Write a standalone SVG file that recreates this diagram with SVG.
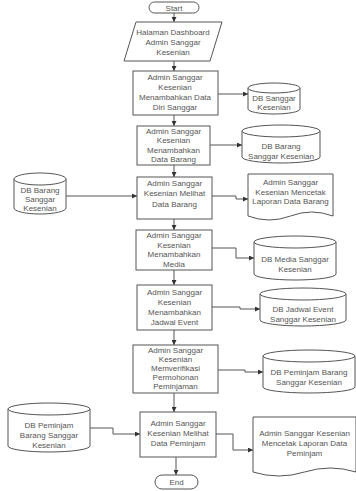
<svg xmlns="http://www.w3.org/2000/svg" width="356" height="491" viewBox="0 0 356 491">
  <defs>
    <marker id="arrow" viewBox="0 0 6 6" refX="6" refY="3" markerWidth="5" markerHeight="5" orient="auto">
      <path d="M0,0 L6,3 L0,6 z" fill="#333"/>
    </marker>
    <style>
      .shape { fill: #ffffff; stroke: #555; stroke-width: 1; }
      .edge { fill: none; stroke: #555; stroke-width: 1; marker-end: url(#arrow); }
      text { font-family: "Liberation Sans", Arial, sans-serif; font-size: 8px; fill: #555; text-anchor: middle; }
    </style>
  </defs>
  <rect width="356" height="491" fill="#ffffff"/>

  <!-- connectors -->
  <g id="connectors">
    <path class="edge" d="M174,13 V22"/>
    <path class="edge" d="M174,61 V71"/>
    <path class="edge" d="M213,94 H248"/>
    <path class="edge" d="M174,115 V126"/>
    <path class="edge" d="M210,145 H242"/>
    <path class="edge" d="M174,165 V177"/>
    <path class="edge" d="M65,196 H137"/>
    <path class="edge" d="M212,196 H236 V199 H248"/>
    <path class="edge" d="M174,219 V230"/>
    <path class="edge" d="M212,248 H236 V258 H254"/>
    <path class="edge" d="M174,270 V285"/>
    <path class="edge" d="M212,307 H240 V309 H260"/>
    <path class="edge" d="M174,330 V345"/>
    <path class="edge" d="M218,370 H245 V372 H263"/>
    <path class="edge" d="M174,393 V412"/>
    <path class="edge" d="M90,428 H113 V434 H140"/>
    <path class="edge" d="M216,434 H233 V450 H253"/>
    <path class="edge" d="M176,457 V475"/>
  </g>

  <!-- start -->
  <g id="start">
    <rect class="shape" x="149" y="2" width="50" height="11" rx="5.5"/>
    <text x="174" y="10.5">Start</text>
  </g>

  <!-- dashboard input -->
  <g id="dashboard">
    <path class="shape" d="M136,22 H222 L210,61 H124 Z"/>
    <text x="173" y="35">Halaman Dashboard</text>
    <text x="173" y="45">Admin Sanggar</text>
    <text x="173" y="55">Kesenian</text>
  </g>

  <g id="tambah-data-diri">
    <rect class="shape" x="133" y="71" width="85" height="44"/>
    <text x="175" y="80">Admin Sanggar</text>
    <text x="175" y="90">Kesenian</text>
    <text x="175" y="100">Menambahkan Data</text>
    <text x="175" y="110">Diri Sanggar</text>
  </g>

  <g id="db-sanggar">
    <path class="shape" d="M248,88 A26,5 0 0 1 300,88 V109 A26,5 0 0 1 248,109 Z"/>
    <path class="shape" d="M248,88 A26,5 0 0 0 300,88" fill="none"/>
    <text x="274" y="101">DB Sanggar</text>
    <text x="274" y="110">Kesenian</text>
  </g>

  <g id="tambah-barang">
    <rect class="shape" x="137" y="126" width="73" height="39"/>
    <text x="173.5" y="134">Admin Sanggar</text>
    <text x="173.5" y="143">Kesenian</text>
    <text x="173.5" y="152.5">Menambahkan</text>
    <text x="173.5" y="162">Data Barang</text>
  </g>

  <g id="db-barang">
    <path class="shape" d="M242,131 A39,6 0 0 1 320,131 V157 A39,6 0 0 1 242,157 Z"/>
    <path class="shape" d="M242,131 A39,6 0 0 0 320,131" fill="none"/>
    <text x="281" y="149">DB Barang</text>
    <text x="281" y="159">Sanggar Kesenian</text>
  </g>

  <g id="lihat-barang">
    <rect class="shape" x="137" y="177" width="75" height="42"/>
    <text x="174.5" y="186">Admin Sanggar</text>
    <text x="174.5" y="196">Kesenian Melihat</text>
    <text x="174.5" y="207">Data Barang</text>
  </g>

  <g id="db-barang-sumber">
    <path class="shape" d="M14,179 A26,6 0 0 1 66,179 V208 A26,6 0 0 1 14,208 Z"/>
    <path class="shape" d="M14,179 A26,6 0 0 0 66,179" fill="none"/>
    <text x="40" y="193">DB Barang</text>
    <text x="40" y="202">Sanggar</text>
    <text x="40" y="211">Kesenian</text>
  </g>

  <g id="laporan-barang">
    <path class="shape" d="M248,174 H333 V216 Q311.75,208 290.5,216 T248,216 Z"/>
    <text x="290.5" y="185">Admin Sanggar</text>
    <text x="290.5" y="195">Kesenian Mencetak</text>
    <text x="290.5" y="204">Laporan Data Barang</text>
  </g>

  <g id="tambah-media">
    <rect class="shape" x="136" y="230" width="76" height="40"/>
    <text x="174" y="238">Admin Sanggar</text>
    <text x="174" y="247.5">Kesenian</text>
    <text x="174" y="257">Menambahkan</text>
    <text x="174" y="266.5">Media</text>
  </g>

  <g id="db-media">
    <path class="shape" d="M254,242 A41,6 0 0 1 336,242 V274 A41,6 0 0 1 254,274 Z"/>
    <path class="shape" d="M254,242 A41,6 0 0 0 336,242" fill="none"/>
    <text x="295" y="262">DB Media Sanggar</text>
    <text x="295" y="272">Kesenian</text>
  </g>

  <g id="tambah-jadwal">
    <rect class="shape" x="137" y="285" width="75" height="45"/>
    <text x="174.5" y="295">Admin Sanggar</text>
    <text x="174.5" y="305">Kesenian</text>
    <text x="174.5" y="315">Menambahkan</text>
    <text x="174.5" y="325">Jadwal Event</text>
  </g>

  <g id="db-jadwal">
    <path class="shape" d="M260,294 A43,6 0 0 1 346,294 V320 A43,6 0 0 1 260,320 Z"/>
    <path class="shape" d="M260,294 A43,6 0 0 0 346,294" fill="none"/>
    <text x="303" y="312">DB Jadwal Event</text>
    <text x="303" y="322">Sanggar Kesenian</text>
  </g>

  <g id="verifikasi">
    <rect class="shape" x="133" y="345" width="85" height="48"/>
    <text x="175.5" y="353">Admin Sanggar</text>
    <text x="175.5" y="362">Kesenian</text>
    <text x="175.5" y="371">Memverifikasi</text>
    <text x="175.5" y="380">Permohonan</text>
    <text x="175.5" y="389">Peminjaman</text>
  </g>

  <g id="db-peminjam">
    <path class="shape" d="M263,356 A46,6 0 0 1 355,356 V387 A46,6 0 0 1 263,387 Z"/>
    <path class="shape" d="M263,356 A46,6 0 0 0 355,356" fill="none"/>
    <text x="309" y="375">DB Peminjam Barang</text>
    <text x="309" y="385">Sanggar Kesenian</text>
  </g>

  <g id="lihat-peminjam">
    <rect class="shape" x="140" y="412" width="76" height="45"/>
    <text x="178" y="426">Admin Sanggar</text>
    <text x="178" y="436">Kesenian Melihat</text>
    <text x="178" y="446">Data Peminjam</text>
  </g>

  <g id="db-peminjam-sumber">
    <path class="shape" d="M8,409 A41,6 0 0 1 90,409 V446 A41,6 0 0 1 8,446 Z"/>
    <path class="shape" d="M8,409 A41,6 0 0 0 90,409" fill="none"/>
    <text x="49" y="428">DB Peminjam</text>
    <text x="49" y="438">Barang Sanggar</text>
    <text x="49" y="448">Kesenian</text>
  </g>

  <g id="laporan-peminjam">
    <path class="shape" d="M253,417 H356 V472 Q330.25,464 304.5,472 T253,472 Z"/>
    <text x="304.5" y="436">Admin Sanggar Kesenian</text>
    <text x="304.5" y="446">Mencetak Laporan Data</text>
    <text x="304.5" y="456">Peminjam</text>
  </g>

  <!-- end -->
  <g id="end">
    <rect class="shape" x="155" y="475" width="43" height="14" rx="7"/>
    <text x="176.5" y="485">End</text>
  </g>
</svg>
